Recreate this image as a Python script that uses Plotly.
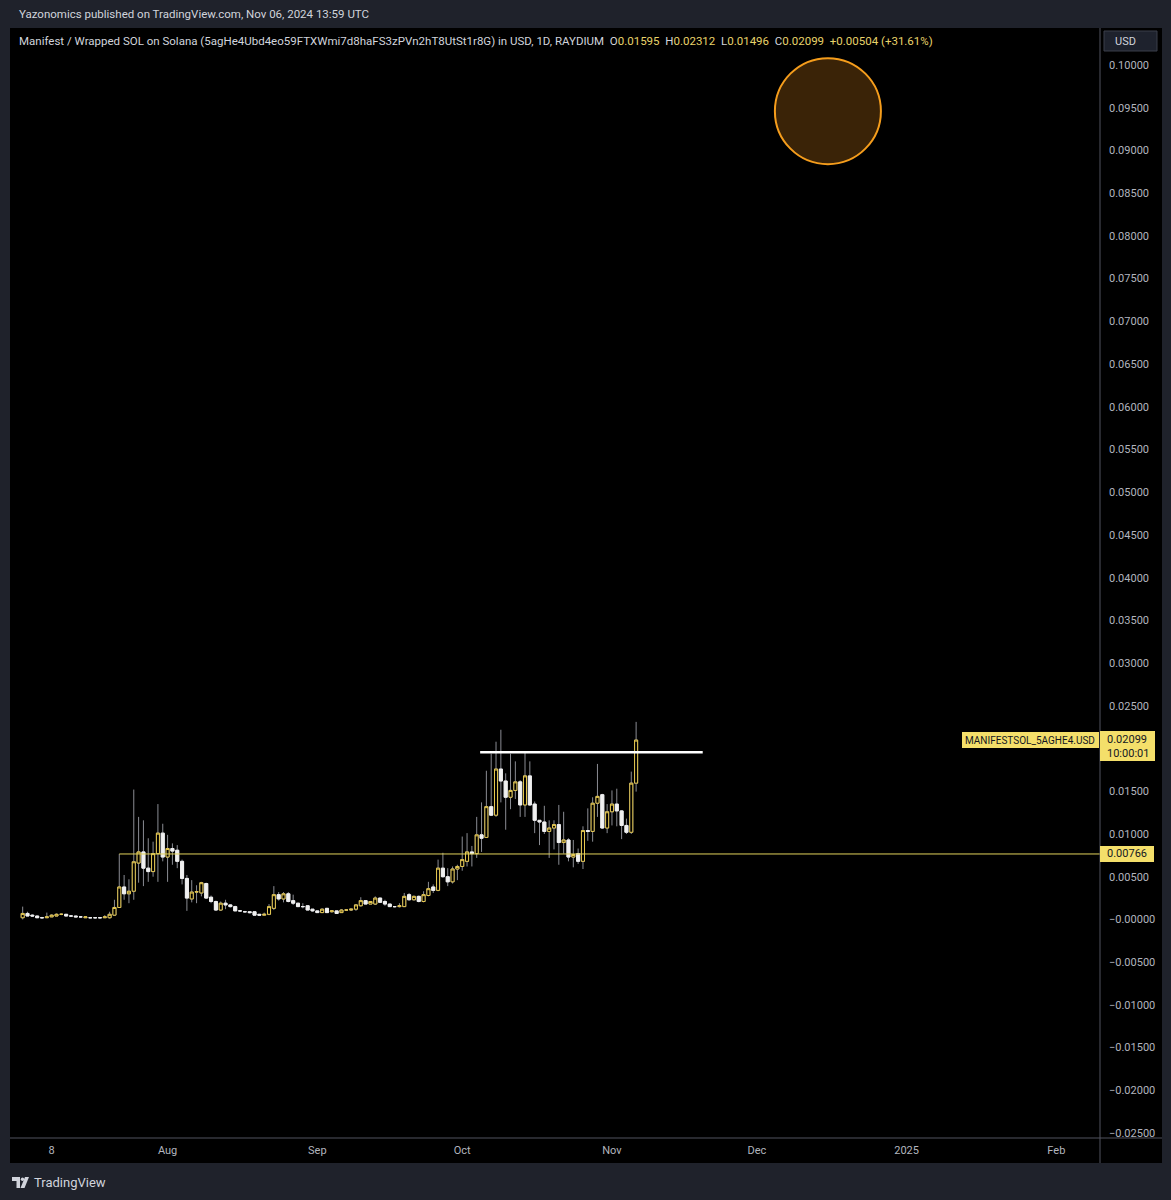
import plotly.graph_objects as go
import pandas as pd

# ---------------- data ----------------
start_date = "2024-07-02"

opens = [0.0002, 0.0007, 0.0005, 0.0004, 0.0002, 0.0002, 0.0003, 0.0004, 0.0006, 0.0006,
         0.0004, 0.0004, 0.0003, 0.0002, 0.0002, 0.0002, 0.0002, 0.0002, 0.0002, 0.0005,
         0.0014, 0.0038, 0.0030, 0.0033, 0.0066, 0.0079, 0.0060, 0.0056, 0.0077, 0.0101,
         0.0073, 0.0083, 0.0081, 0.0068, 0.0048, 0.0024, 0.0032, 0.0031, 0.0042, 0.0026,
         0.0021, 0.0011, 0.0019, 0.0017, 0.0015, 0.0010, 0.0009, 0.0009, 0.0009, 0.0006,
         0.0005, 0.0006, 0.0013, 0.0029, 0.0024, 0.0030, 0.0022, 0.0019, 0.0015, 0.0016,
         0.0012, 0.0010, 0.0008, 0.0013, 0.0009, 0.0010, 0.0008, 0.0011, 0.0011, 0.0012,
         0.0016, 0.0022, 0.0018, 0.0018, 0.0025, 0.0021, 0.0018, 0.0015, 0.0015, 0.0015,
         0.0029, 0.0023, 0.0027, 0.0021, 0.0028, 0.0038, 0.0034, 0.0060, 0.0050, 0.0044,
         0.0059, 0.0062, 0.0068, 0.0079, 0.0077, 0.0099, 0.0096, 0.0132, 0.0122, 0.0176,
         0.0162, 0.0143, 0.0151, 0.0161, 0.0134, 0.0168, 0.0135, 0.0116, 0.0114, 0.0103,
         0.0107, 0.0111, 0.0090, 0.0093, 0.0073, 0.0077, 0.0068, 0.0104, 0.0103, 0.0136,
         0.0146, 0.0107, 0.0126, 0.0135, 0.0127, 0.0110, 0.0102, 0.01595]
highs = [0.0015, 0.0009, 0.0006, 0.0004, 0.0003, 0.0008, 0.0006, 0.0007, 0.0007, 0.0006,
         0.0005, 0.0004, 0.0003, 0.0004, 0.0002, 0.0002, 0.0002, 0.0005, 0.0009, 0.0023,
         0.00766, 0.0052, 0.0047, 0.0152, 0.0120, 0.0116, 0.0095, 0.0091, 0.0135, 0.0112,
         0.0099, 0.0089, 0.0087, 0.0070, 0.0052, 0.0046, 0.0040, 0.0044, 0.0043, 0.0028,
         0.0022, 0.0021, 0.0023, 0.0018, 0.0016, 0.0011, 0.0010, 0.0009, 0.0009, 0.0006,
         0.0008, 0.0018, 0.0039, 0.0032, 0.0032, 0.0032, 0.0029, 0.0019, 0.0019, 0.0016,
         0.0012, 0.0010, 0.0013, 0.0013, 0.0010, 0.0010, 0.0012, 0.0011, 0.0012, 0.0018,
         0.0026, 0.0022, 0.0021, 0.0027, 0.0025, 0.0023, 0.0018, 0.0015, 0.0019, 0.0031,
         0.0031, 0.0028, 0.0028, 0.0033, 0.0044, 0.0041, 0.0070, 0.0078, 0.0060, 0.0062,
         0.0064, 0.0097, 0.0101, 0.0086, 0.0120, 0.0137, 0.0174, 0.0194, 0.0208, 0.0222,
         0.0171, 0.0194, 0.0185, 0.0163, 0.0195, 0.0185, 0.0138, 0.0116, 0.0133, 0.0116,
         0.0116, 0.0134, 0.0126, 0.0095, 0.0093, 0.0083, 0.0109, 0.0130, 0.0143, 0.0182,
         0.0147, 0.0135, 0.0151, 0.0153, 0.0128, 0.0118, 0.0173, 0.02312]
lows = [0.0000, 0.0004, 0.0003, 0.0002, 0.0001, 0.0002, 0.0003, 0.0004, 0.0005, 0.0004,
        0.0003, 0.0003, 0.0002, 0.0002, 0.0001, 0.0001, 0.0001, 0.0002, 0.0001, 0.0004,
        0.0014, 0.0023, 0.0019, 0.0023, 0.0043, 0.0039, 0.0044, 0.0050, 0.0044, 0.0068,
        0.0044, 0.0064, 0.0060, 0.0041, 0.0010, 0.0020, 0.0019, 0.0027, 0.0024, 0.0019,
        0.0010, 0.0010, 0.0012, 0.0014, 0.0010, 0.0009, 0.0008, 0.0007, 0.0005, 0.0004,
        0.0005, 0.0005, 0.0011, 0.0022, 0.0020, 0.0020, 0.0017, 0.0015, 0.0013, 0.0011,
        0.0009, 0.0008, 0.0008, 0.0008, 0.0008, 0.0007, 0.0008, 0.0010, 0.0010, 0.0010,
        0.0015, 0.0018, 0.0018, 0.0017, 0.0020, 0.0016, 0.0015, 0.0014, 0.0014, 0.0015,
        0.0022, 0.0022, 0.0020, 0.0020, 0.0027, 0.0031, 0.0033, 0.0049, 0.0039, 0.0042,
        0.0046, 0.0057, 0.0062, 0.0062, 0.0072, 0.0079, 0.0096, 0.0121, 0.0120, 0.0137,
        0.0105, 0.0129, 0.0141, 0.0120, 0.0120, 0.0133, 0.0101, 0.0087, 0.0100, 0.0072,
        0.0082, 0.0064, 0.0077, 0.0068, 0.0061, 0.0065, 0.0059, 0.0092, 0.0091, 0.0120,
        0.0106, 0.0101, 0.0110, 0.0109, 0.0094, 0.0100, 0.0100, 0.01496]
closes = [0.0007, 0.0004, 0.0004, 0.0002, 0.0002, 0.0003, 0.0005, 0.0006, 0.0006, 0.0004,
          0.0004, 0.0003, 0.0003, 0.0003, 0.0002, 0.0002, 0.0002, 0.0003, 0.0006, 0.0014,
          0.0038, 0.0030, 0.0033, 0.00675, 0.0079, 0.0060, 0.0056, 0.0077, 0.0101, 0.0073,
          0.0083, 0.0080, 0.0068, 0.0048, 0.0025, 0.0032, 0.00325, 0.0043, 0.0025, 0.0021,
          0.0011, 0.0019, 0.0017, 0.0015, 0.0010, 0.0010, 0.0009, 0.0008, 0.0005, 0.0005,
          0.0006, 0.0015, 0.0029, 0.0024, 0.0030, 0.0021, 0.0019, 0.0015, 0.0015, 0.0011,
          0.0010, 0.0008, 0.0012, 0.0008, 0.0010, 0.0007, 0.0011, 0.0011, 0.0012, 0.0017,
          0.0022, 0.0018, 0.0021, 0.0025, 0.0020, 0.0018, 0.0015, 0.0015, 0.0016, 0.0027,
          0.0023, 0.0027, 0.0021, 0.0029, 0.0036, 0.0034, 0.0060, 0.0050, 0.0044, 0.0059,
          0.0062, 0.0070, 0.0079, 0.0077, 0.0099, 0.0095, 0.0132, 0.0122, 0.0176, 0.0162,
          0.0143, 0.0151, 0.0161, 0.0134, 0.0168, 0.0134, 0.0116, 0.0114, 0.0103, 0.0107,
          0.0111, 0.0090, 0.0093, 0.0073, 0.0076, 0.0068, 0.0104, 0.0103, 0.0136, 0.0144,
          0.0107, 0.0126, 0.0135, 0.0127, 0.0110, 0.0102, 0.01595, 0.02099]

support_level = 0.00766
support_start = "2024-07-22"
resistance_level = 0.01956
resistance_start = "2024-10-04 17:00"
resistance_end = "2024-11-19 19:00"
circle_date = "2024-12-15 17:00"
circle_price = 0.0946

x_range = ["2024-06-29 09:00", "2025-02-10 01:00"]
y_range = [-0.02558, 0.10433]

x_tick_dates = ["2024-07-08", "2024-08-01", "2024-09-01", "2024-10-01",
                "2024-11-01", "2024-12-01", "2025-01-01", "2025-02-01"]
x_tick_labels = ["8", "Aug", "Sep", "Oct", "Nov", "Dec", "2025", "Feb"]
y_tick_all = [round(-0.025 + 0.005 * k, 3) for k in range(26)]

header_title = ("Manifest / Wrapped SOL on Solana (5agHe4Ubd4eo59FTXWmi7d8haFS3zPVn2hT8UtSt1r8G)"
                " in USD, 1D, RAYDIUM")
ohlc_text = [("O", "0.01595"), ("H", "0.02312"), ("L", "0.01496"), ("C", "0.02099")]
change_text = "+0.00504 (+31.61%)"
publish_text = "Yazonomics published on TradingView.com, Nov 06, 2024 13:59 UTC"
symbol_label = "MANIFESTSOL_5AGHE4.USD"
countdown = "10:00:01"

# ---------------- styling ----------------
FONT = "Roboto, 'Noto Sans', sans-serif"
FRAME = "#1f222b"
UP = "#e6c84f"
DOWN = "#f0f0f0"
WICK = "#8a8c93"
LABEL_Y = "#f4df6a"
TXT = "#d1d4dc"
AXT = "#b2b5be"
BORDER = "#50535e"

W, H = 1171, 1200
L_M, R_M, T_M, B_M = 10, 71, 28, 62
PW, PH = W - L_M - R_M, H - T_M - B_M


def px(xp):
    return (xp - L_M) / PW


def py(yp):
    return (H - B_M - yp) / PH


dates = pd.date_range(start_date, periods=len(opens), freq="D")
body_hi = [max(o, c) for o, c in zip(opens, closes)]
body_lo = [min(o, c) for o, c in zip(opens, closes)]
last_close = closes[-1]

# axis labels hidden behind the last-price badge (as in the reference)
y_tick_values = [v for v in y_tick_all if not (-0.0015 < v - last_close < 0.0005)]

fig = go.Figure()

# wicks
fig.add_trace(go.Candlestick(
    x=dates, open=opens, high=highs, low=lows, close=closes,
    increasing=dict(line=dict(color=WICK, width=1), fillcolor=WICK),
    decreasing=dict(line=dict(color=WICK, width=1), fillcolor=WICK),
    whiskerwidth=0, hoverinfo="skip", showlegend=False))
# bodies
fig.add_trace(go.Candlestick(
    x=dates, open=opens, high=body_hi, low=body_lo, close=closes,
    increasing=dict(line=dict(color=UP, width=1), fillcolor="#000000"),
    decreasing=dict(line=dict(color=DOWN, width=1), fillcolor=DOWN),
    whiskerwidth=0, hoverinfo="skip", showlegend=False))

# support line (yellow)
fig.add_trace(go.Scatter(
    x=[support_start, x_range[1]], y=[support_level, support_level], mode="lines",
    line=dict(color="#e3d35c", width=1), hoverinfo="skip", showlegend=False))
# resistance line (white)
fig.add_trace(go.Scatter(
    x=[resistance_start, resistance_end], y=[resistance_level, resistance_level], mode="lines",
    line=dict(color="#ffffff", width=2.5), hoverinfo="skip", showlegend=False))
# circle
fig.add_trace(go.Scatter(
    x=[circle_date], y=[circle_price], mode="markers",
    marker=dict(size=106, color="#3a2307", line=dict(color="#f59d1c", width=2)),
    hoverinfo="skip", showlegend=False))

shapes = []
shapes.append(dict(type="rect", xref="paper", yref="paper", x0=0, x1=px(1162), y0=py(1163), y1=1,
                   fillcolor="#000000", line=dict(width=0), layer="below"))
shapes.append(dict(type="line", xref="paper", yref="paper", x0=1, x1=1, y0=py(1163), y1=1,
                   line=dict(color=BORDER, width=1)))
shapes.append(dict(type="line", xref="paper", yref="paper", x0=0, x1=px(1162), y0=0, y1=0,
                   line=dict(color=BORDER, width=1)))
shapes.append(dict(type="rect", xref="paper", yref="paper", x0=px(1104), x1=px(1157), y0=py(51), y1=py(31),
                   fillcolor="#1e222d", line=dict(color="#3a3e4a", width=1)))
shapes.append(dict(type="rect", xref="paper", yref="y", x0=1, x1=px(1155),
                   ysizemode="pixel", yanchor=last_close, y0=-21, y1=9,
                   fillcolor=LABEL_Y, line=dict(width=0)))
shapes.append(dict(type="rect", xref="paper", yref="y", x0=px(962), x1=px(1099),
                   ysizemode="pixel", yanchor=last_close, y0=-8, y1=8,
                   fillcolor=LABEL_Y, line=dict(width=0)))
shapes.append(dict(type="rect", xref="paper", yref="y", x0=1, x1=px(1154),
                   ysizemode="pixel", yanchor=support_level, y0=-8, y1=8,
                   fillcolor=LABEL_Y, line=dict(width=0)))

# TradingView logo (approximate)
shapes.append(dict(type="path", xref="paper", yref="paper",
                   path=f"M {px(12)},{py(1177)} L {px(20)},{py(1177)} L {px(20)},{py(1188)} "
                        f"L {px(16.5)},{py(1188)} L {px(16.5)},{py(1181)} L {px(12)},{py(1181)} Z",
                   fillcolor="#d1d4dc", line=dict(width=0)))
shapes.append(dict(type="circle", xref="paper", yref="paper",
                   x0=px(20.8), x1=px(24.2), y0=py(1181), y1=py(1177.5),
                   fillcolor="#d1d4dc", line=dict(width=0)))
shapes.append(dict(type="path", xref="paper", yref="paper",
                   path=f"M {px(25)},{py(1177)} L {px(29)},{py(1177)} L {px(24.5)},{py(1188)} "
                        f"L {px(20.5)},{py(1188)} Z",
                   fillcolor="#d1d4dc", line=dict(width=0)))

annotations = []
annotations.append(dict(text=publish_text, xref="paper", yref="paper", x=px(17), y=py(14),
                        xanchor="left", yanchor="middle", showarrow=False,
                        font=dict(family=FONT, size=11.5, color=TXT)))
ohlc_html = "  ".join(f"<span style='color:{TXT}'>{k}</span>{v}" for k, v in ohlc_text)
header_html = (f"{header_title}  <span style='color:#e8d36a'>{ohlc_html}  {change_text}</span>")
annotations.append(dict(text=header_html, xref="paper", yref="paper", x=px(17), y=py(41),
                        xanchor="left", yanchor="middle", showarrow=False,
                        font=dict(family=FONT, size=11.5, color=TXT)))
annotations.append(dict(text="USD", xref="paper", yref="paper", x=px(1113), y=py(42),
                        xanchor="left", yanchor="middle", showarrow=False,
                        font=dict(family=FONT, size=11, color="#d1d4dc")))
annotations.append(dict(text=f"{last_close:.5f}<br>{countdown}", xref="paper", yref="y",
                        x=px(1106), y=last_close, yshift=-6,
                        xanchor="left", yanchor="middle", showarrow=False, align="left",
                        borderpad=0,
                        font=dict(family=FONT, size=11, color="#131722")))
annotations.append(dict(text=symbol_label, xref="paper", yref="y", x=px(964), y=last_close,
                        xanchor="left", yanchor="middle", showarrow=False, borderpad=0,
                        font=dict(family=FONT, size=10, color="#131722")))
annotations.append(dict(text=f"{support_level:.5f}", xref="paper", yref="y", x=px(1106), y=support_level,
                        xanchor="left", yanchor="middle", showarrow=False, borderpad=0,
                        font=dict(family=FONT, size=11, color="#131722")))
annotations.append(dict(text="TradingView", xref="paper", yref="paper", x=px(32), y=py(1182),
                        xanchor="left", yanchor="middle", showarrow=False,
                        font=dict(family=FONT, size=13, color=TXT)))


def fmt(v):
    s = f"{abs(v):.5f}"
    return ("\u2212" + s) if v <= 0 else s


fig.update_layout(
    width=W, height=H,
    margin=dict(l=L_M, r=R_M, t=T_M, b=B_M, autoexpand=False),
    paper_bgcolor=FRAME, plot_bgcolor="#000000",
    boxgap=0.3, boxgroupgap=0.1,
    shapes=shapes, annotations=annotations,
    showlegend=False, hovermode=False,
    xaxis=dict(type="date", range=x_range, tickvals=x_tick_dates, ticktext=x_tick_labels,
               showgrid=False, zeroline=False, showline=False, ticks="",
               tickfont=dict(family=FONT, size=11, color=AXT),
               rangeslider=dict(visible=False), ticklabelstandoff=4),
    yaxis=dict(side="right", range=y_range, tickvals=y_tick_values,
               ticktext=[fmt(v) for v in y_tick_values],
               showgrid=False, zeroline=False, showline=False, ticks="",
               tickfont=dict(family=FONT, size=11, color=AXT), ticklabelstandoff=8),
)

fig.write_html("out.html", config={"displayModeBar": False},
               post_script="document.body.style.margin='0';")
